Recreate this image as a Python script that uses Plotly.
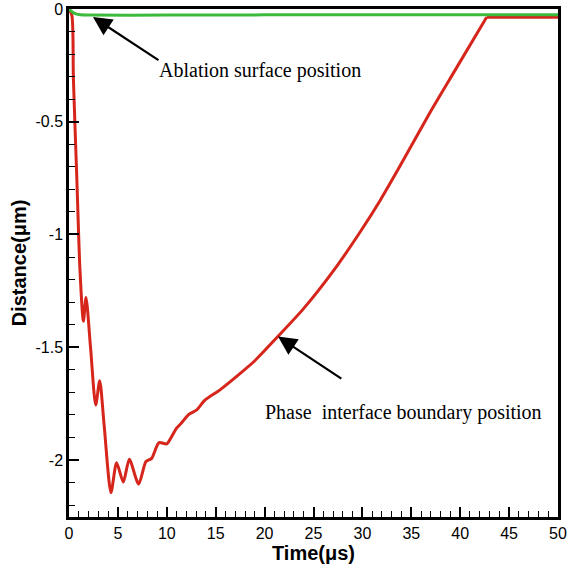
import plotly.graph_objects as go

# Phase interface boundary position (red)
t_phase = [0, 0.3, 0.45, 0.8, 1.12, 1.47, 1.74, 2.2, 2.73, 3.14, 3.6, 4.29, 4.87, 5.55,
           6.17, 7.12, 7.87, 8.45, 9.2, 9.99, 10.4, 11.0, 11.52, 12.2, 13.06, 13.9, 15.44,
           17.48, 19.0, 21.3, 23.96, 27.37, 29.75, 31.8, 33.67, 36.9, 39.5, 42.7, 50.0]
d_phase = [0, -0.03, -0.31, -0.75, -1.156, -1.385, -1.28, -1.50, -1.756, -1.649, -1.85,
           -2.145, -2.012, -2.098, -1.997, -2.107, -2.007, -1.993, -1.923, -1.929, -1.904,
           -1.859, -1.835, -1.80, -1.778, -1.735, -1.689, -1.617, -1.56, -1.455, -1.33,
           -1.141, -0.99, -0.85, -0.71, -0.46, -0.27, -0.037, -0.037]

# Ablation surface position (green)
t_abl = [0, 0.3, 0.7, 1.2, 2, 10, 20, 30, 40, 50]
d_abl = [0, -0.012, -0.022, -0.026, -0.027, -0.027, -0.026, -0.026, -0.025, -0.025]

x_ticks = [0, 5, 10, 15, 20, 25, 30, 35, 40, 45, 50]
y_ticks = [0, -0.5, -1, -1.5, -2]
y_tick_labels = ["0", "-0.5", "-1", "-1.5", "-2"]

RED = "rgb(214,38,28)"
GREEN = "rgb(60,186,60)"

fig = go.Figure()
# smooth transient / rising part
fig.add_trace(go.Scatter(x=t_phase[:-1], y=d_phase[:-1], mode="lines",
                         line=dict(color=RED, width=3, shape="spline", smoothing=0.7),
                         showlegend=False))
# flat plateau after the interface reaches the surface
fig.add_trace(go.Scatter(x=t_phase[-2:], y=d_phase[-2:], mode="lines",
                         line=dict(color=RED, width=3), showlegend=False))
fig.add_trace(go.Scatter(x=t_abl, y=d_abl, mode="lines",
                         line=dict(color=GREEN, width=3, shape="spline", smoothing=0.7),
                         showlegend=False))

axis_common = dict(showgrid=False, zeroline=False, showline=True, linecolor="black",
                   linewidth=2.5, mirror=True, ticks="inside", ticklen=10, tickwidth=2,
                   tickcolor="black", automargin=False,
                   tickfont=dict(family="Liberation Sans, Arial", size=16, color="black"))

fig.update_xaxes(range=[0, 50], tickvals=x_ticks,
                 minor=dict(dtick=1, ticks="inside", ticklen=6, tickwidth=1, tickcolor="black"),
                 title=dict(text="<b>Time(μs)</b>", standoff=6,
                            font=dict(family="Liberation Sans, Arial", size=20, color="black")),
                 **axis_common)
fig.update_yaxes(range=[-2.253, 0], tickvals=y_ticks, ticktext=y_tick_labels,
                 minor=dict(dtick=0.1, tick0=0, ticks="inside", ticklen=6, tickwidth=1, tickcolor="black"),
                 title=dict(text="<b>Distance(μm)</b>", standoff=4,
                            font=dict(family="Liberation Sans, Arial", size=20, color="black")),
                 **axis_common)

serif = dict(family="Liberation Serif, Times New Roman", size=20, color="black")
fig.add_annotation(x=2.45, y=-0.036, ax=9.3, ay=-0.231, axref="x", ayref="y", xref="x", yref="y",
                   text="", showarrow=True, arrowhead=2, arrowsize=1.7, arrowwidth=2.2,
                   arrowcolor="black")
fig.add_annotation(x=19.55, y=-0.271, text="Ablation surface position", showarrow=False,
                   font=serif, xref="x", yref="y")
fig.add_annotation(x=21.37, y=-1.453, ax=28.0, ay=-1.644, axref="x", ayref="y", xref="x", yref="y",
                   text="", showarrow=True, arrowhead=2, arrowsize=1.7, arrowwidth=2.2,
                   arrowcolor="black")
fig.add_annotation(x=34.25, y=-1.791, text="Phase\u00a0 interface boundary position",
                   showarrow=False, font=serif, xref="x", yref="y")

fig.update_layout(width=573, height=568, margin=dict(l=69, r=15, t=9, b=51),
                  paper_bgcolor="white", plot_bgcolor="white")

fig.write_html("out.html")
